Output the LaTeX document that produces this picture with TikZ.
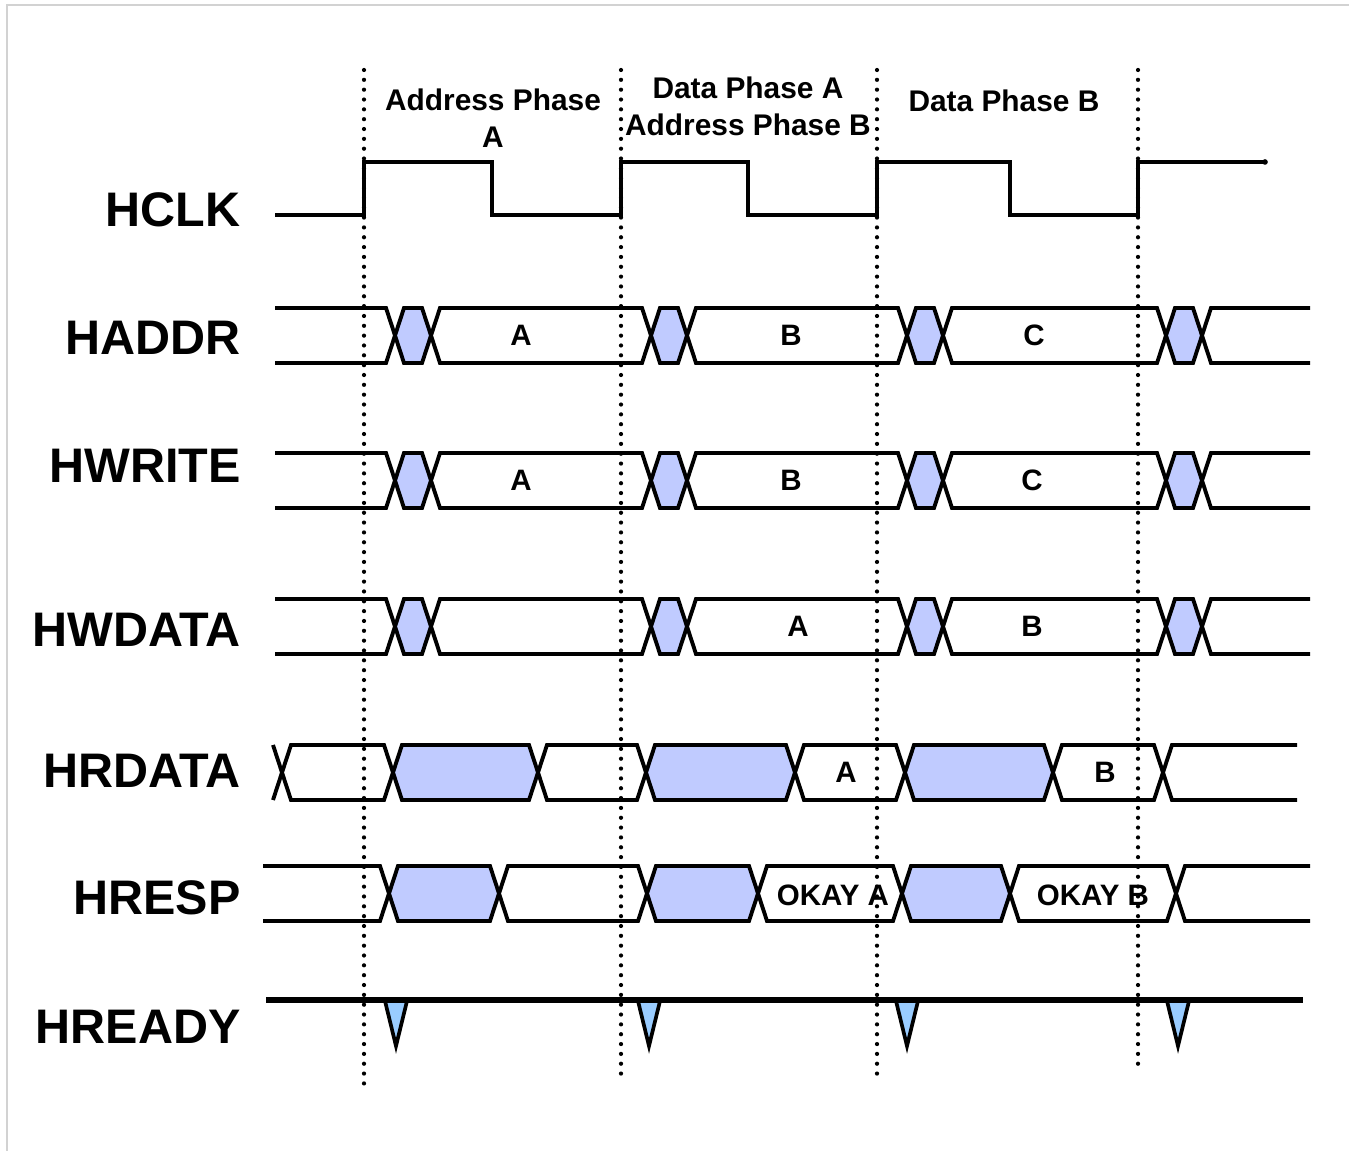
\documentclass[tikz,border=0pt]{standalone}
\usepackage{fontspec}
\setmainfont{Liberation Sans}
\definecolor{busblue}{RGB}{192,203,255}
\definecolor{rdyblue}{RGB}{153,204,255}
% one bus cell: x1, x2, top, bottom, fill
\newcommand{\buscell}[5]{%
  \filldraw[bus,fill=#5] (#1,{(#3+#4)/2}) -- (#1+9,#3) -- (#2-9,#3) -- (#2,{(#3+#4)/2}) -- (#2-9,#4) -- (#1+9,#4) -- cycle;}

\begin{document}
\begin{tikzpicture}[
  x=0.02cm, y=-0.02cm,
  bus/.style={line width=2.2pt,line join=miter},
  clk/.style={line width=2.6pt,line join=miter},
  rdy/.style={line width=3.1pt},
  spike/.style={line width=2.1pt,fill=rdyblue,line join=miter},
  phase/.style={line width=2.4pt,line cap=round,dash pattern=on 0pt off 5.6pt},
  siglbl/.style={anchor=east,inner sep=0pt,font=\fontsize{27.6}{30}\selectfont\bfseries},
  phlbl/.style={align=center,inner sep=0pt,font=\fontsize{17}{21}\selectfont\bfseries},
  vallbl/.style={inner sep=0pt,font=\fontsize{16.8}{20}\selectfont\bfseries}
]
\useasboundingbox (0,0) rectangle (1349,1151);
\draw[gray!35,line width=0.6pt] (7,1151) -- (7,5) -- (1349,5);

% signal names
\node[siglbl] (nclk) at (241,210) {HCLK};
\node[siglbl] (naddr) at (241,338) {HADDR};
\node[siglbl] (nwrite) at (241,466) {HWRITE};
\node[siglbl] (nwdata) at (241,630) {HWDATA};
\node[siglbl] (nrdata) at (241,771) {HRDATA};
\node[siglbl] (nresp) at (241,898) {HRESP};
\node[siglbl] (nready) at (241,1027) {HREADY};

% phase titles
\node[phlbl] (ph1) at (493,118) {Address Phase\\A};
\node[phlbl] (ph2) at (748,106) {Data Phase A\\Address Phase B};
\node[phlbl] (ph3) at (1004,101) {Data Phase B};

% clock
\draw[clk] (275,215) -- (364,215) -- (364,162) -- (492,162) -- (492,215) -- (621,215)
  -- (621,162) -- (748,162) -- (748,215) -- (877,215) -- (877,162) -- (965,162);
\draw[line width=2pt,line join=miter] (965,162) -- (1010,162) -- (1010,215) -- (1138,215)
  -- (1138,162) -- (1265,162);
\fill (1265,162) circle[radius=1.6pt];

% HADDR, HWRITE, HWDATA share the same edges
\foreach \yt in {308,453,599} {
  \pgfmathsetmacro{\yb}{\yt+55}
  \pgfmathsetmacro{\ym}{\yt+27.5}
  \draw[bus] (275,\yt) -- (386,\yt) -- (395,\ym) -- (386,\yb) -- (275,\yb);
  \foreach \xa/\xb/\cf in {395/431/busblue,431/651/white,651/687/busblue,687/907/white,
      907/943/busblue,943/1166/white,1166/1202/busblue}
    \buscell{\xa}{\xb}{\yt}{\yb}{\cf};
  \draw[bus] (1310,\yt) -- (1211,\yt) -- (1202,\ym) -- (1211,\yb) -- (1310,\yb);
}
\node[vallbl] (aA) at (521,335) {A};
\node[vallbl] (aB) at (791,335) {B};
\node[vallbl] (aC) at (1034,335) {C};
\node[vallbl] (wA) at (521,480) {A};
\node[vallbl] (wB) at (791,480) {B};
\node[vallbl] (wC) at (1032,480) {C};
\node[vallbl] (dA) at (798,626) {A};
\node[vallbl] (dB) at (1032,626) {B};

% HRDATA
\draw[bus] (273,745) -- (282,772.5) -- (273,800);
\foreach \xa/\xb/\cf in {282/393/white,393/538/busblue,538/646/white,646/795/busblue,
    795/905/white,905/1053/busblue,1053/1163/white}
  \buscell{\xa}{\xb}{745}{800}{\cf};
\draw[bus] (1297,745) -- (1172,745) -- (1163,772.5) -- (1172,800) -- (1297,800);
\node[vallbl] (rA) at (846,772) {A};
\node[vallbl] (rB) at (1105,772) {B};

% HRESP
\draw[bus] (263,866) -- (380,866) -- (389,893.5) -- (380,921) -- (263,921);
\foreach \xa/\xb/\cf in {389/499/busblue,499/647/white,647/758/busblue,758/902/white,
    902/1010/busblue,1010/1176/white}
  \buscell{\xa}{\xb}{866}{921}{\cf};
\draw[bus] (1310,866) -- (1185,866) -- (1176,893.5) -- (1185,921) -- (1310,921);
\node[vallbl] (sA) at (833,895) {OKAY A};
\node[vallbl] (sB) at (1093,895) {OKAY B};

% HREADY with wait spikes
\foreach \x in {396,649,907,1178}
  \filldraw[spike] (\x-11,1001) -- (\x,1046) -- (\x+11,1001) -- cycle;
\draw[rdy] (266,1000) -- (1303,1000);

% clock edge markers
\foreach \x/\ye in {364/1085,621/1075,877/1077,1138/1065}
  \draw[phase] (\x,70) -- (\x,\ye);
\end{tikzpicture}
\end{document}
